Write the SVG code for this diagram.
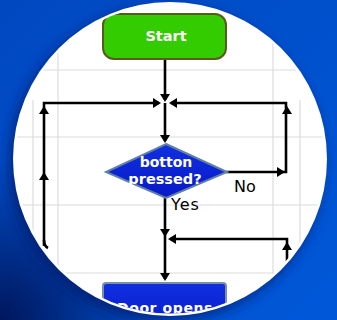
<svg xmlns="http://www.w3.org/2000/svg" width="337" height="320" viewBox="0 0 337 320">
<defs>
<linearGradient id="bg" x1="0" y1="0" x2="1" y2="1">
<stop offset="0" stop-color="#0048c0"/>
<stop offset="1" stop-color="#0058d8"/>
</linearGradient>
<radialGradient id="dark" cx="0" cy="1" r="0.5">
<stop offset="0" stop-color="#001050" stop-opacity="0.9"/>
<stop offset="1" stop-color="#001050" stop-opacity="0"/>
</radialGradient>
<filter id="blur" x="-20%" y="-20%" width="140%" height="140%"><feGaussianBlur stdDeviation="6"/></filter>
<clipPath id="disk"><circle cx="170" cy="159" r="154.5"/></clipPath>
<linearGradient id="blueBox" x1="0" y1="0" x2="0" y2="1">
<stop offset="0" stop-color="#1030e0"/>
<stop offset="1" stop-color="#0818c8"/>
</linearGradient>
</defs>
<style>
.grid{stroke:#dcdcdc;stroke-width:1.2;fill:none}
.ln{stroke:#000;stroke-width:2.6;fill:none}
.ah{fill:#000}
.wt{font-family:"DejaVu Sans",Verdana,sans-serif;font-weight:bold;fill:#fff;text-anchor:middle}
.bt{font-family:"DejaVu Sans",Verdana,sans-serif;fill:#000}
</style>
<rect width="337" height="320" fill="url(#bg)"/>
<rect width="337" height="320" fill="url(#dark)"/>
<circle cx="166" cy="164" r="158" fill="#001a70" opacity="0.7" filter="url(#blur)"/>
<circle cx="170" cy="159" r="157" fill="#fff"/>
<g clip-path="url(#disk)">
<g id="grid">
<line class="grid" x1="0" y1="70" x2="337" y2="70"/>
<line class="grid" x1="0" y1="137" x2="337" y2="137"/>
<line class="grid" x1="0" y1="205" x2="337" y2="205"/>
<line class="grid" x1="0" y1="273" x2="337" y2="273"/>
<line class="grid" x1="58" y1="0" x2="58" y2="320"/>
<line class="grid" x1="33" y1="100" x2="33" y2="270"/>
<line class="grid" x1="273" y1="0" x2="273" y2="320"/>
<line class="grid" x1="300" y1="100" x2="300" y2="270"/>
</g>
<g id="connectors">
<path class="ln" d="M165 59 V100"/>
<polygon class="ah" points="160,94 170,94 165,102"/>
<path class="ln" d="M44 246 V103 H159"/>
<polygon class="ah" points="153,98 153,108 161,103"/>
<polygon class="ah" points="39,114 49,114 44,106"/>
<polygon class="ah" points="39,180 49,180 44,172"/>
<path class="ln" d="M44 240 Q44 246 48 248"/>
<path class="ln" d="M226 172 H286 V103 H171"/>
<polygon class="ah" points="177,98 177,108 169,103"/>
<polygon class="ah" points="282,114 292,114 287,106"/>
<polygon class="ah" points="277,167 277,177 285,172"/>
<path class="ln" d="M165 103 V141"/>
<polygon class="ah" points="160,135 170,135 165,143"/>
<path class="ln" d="M165 197 V279"/>
<polygon class="ah" points="160,229 170,229 165,237"/>
<polygon class="ah" points="160,273 170,273 165,281"/>
<path class="ln" d="M287 265 V239 H170"/>
<polygon class="ah" points="176,234 176,244 168,239"/>
<polygon class="ah" points="282,250 292,250 287,242"/>
</g>
<g id="start">
<rect x="103" y="14" width="123" height="45" rx="11" fill="#33cc00" stroke="#5a5a20" stroke-width="2"/>
<text class="wt" x="166" y="41" font-size="14.5">Start</text>
</g>
<g id="decision">
<polygon points="166,144 227,172 166,198 106,172" fill="url(#blueBox)" stroke="#6080a8" stroke-width="2"/>
<text class="wt" x="166" y="167" font-size="14">botton</text>
<text class="wt" x="165" y="184" font-size="14.5">pressed?</text>
</g>
<g id="labels">
<text class="bt" x="234" y="192" font-size="16">No</text>
<text class="bt" x="171" y="210" font-size="16" letter-spacing="1">Yes</text>
</g>
<g id="door">
<rect x="103" y="283" width="123" height="50" rx="3" fill="url(#blueBox)" stroke="#7890a8" stroke-width="2"/>
<text class="wt" x="165" y="313" font-size="14" letter-spacing="0.6">Door opens</text>
</g>
</g>
</svg>
